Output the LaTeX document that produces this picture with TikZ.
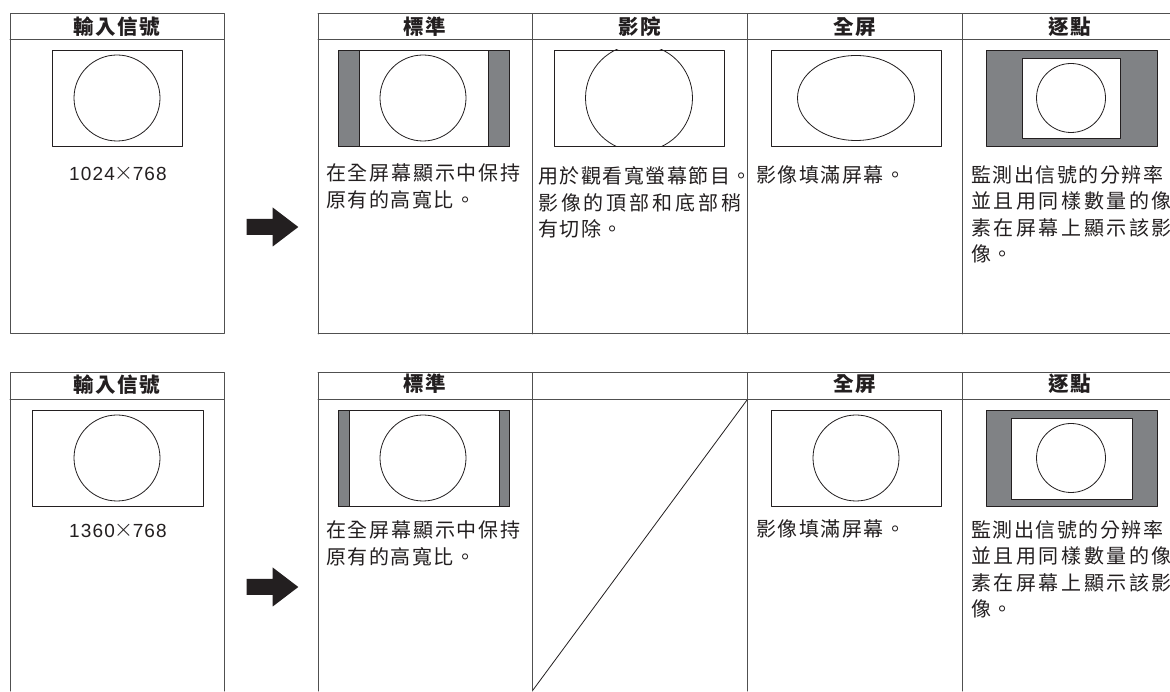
\documentclass[tikz,border=0pt]{standalone}
\usepackage{fontspec}
\usepackage{xcolor}
\usepackage{tikz}
\newfontfamily\cjk[LetterSpace=7.5]{Noto Sans CJK TC}
\newfontfamily\numfont[LetterSpace=6]{Liberation Sans}
\definecolor{tvink}{HTML}{231F20}
\definecolor{tvrule}{HTML}{505050}
\definecolor{tvgray}{HTML}{808285}
\newcommand{\tvscreen}[4]{%
  \draw[draw=tvink,line width=.9pt,fill=white] (#1,#2) rectangle (#3,#4);
}
\newcommand{\tvbar}[4]{%
  \filldraw[draw=tvink,fill=tvgray,line width=.9pt] (#1,#2) rectangle (#3,#4);
}
\newcommand{\tvdisc}[3]{%
  \draw[draw=tvink,line width=.8pt] (#1,#2) circle (#3pt);
}
\newcommand{\fatarrow}[2]{%
  \fill[tvink] (#1,#2-8) -- (#1+26,#2-8) -- (#1+26,#2-19.5) -- (#1+51.6,#2)
    -- (#1+26,#2+19.5) -- (#1+26,#2+8) -- (#1,#2+8) -- cycle;
}
\newcommand{\spread}[2]{{\addfontfeature{LetterSpace=#1}#2}}
\newcommand{\bytimes}{\hspace{-1pt}{\fontsize{24}{24}\selectfont
  \raisebox{.8pt}{$\times$}}\hspace{-.5pt}}
\tikzset{
  colhead/.style={font=\cjk\bfseries\fontsize{20.5}{23}\selectfont,
    text=tvink,inner sep=0pt},
  celltext/.style={anchor=north west,align=left,inner sep=0pt,
    font=\cjk\fontsize{20}{26.6}\selectfont,text=tvink},
  restext/.style={font=\numfont\fontsize{19}{21}\selectfont,
    text=tvink,inner sep=0pt},
  tablerule/.style={draw=tvrule,line width=1pt},
}

\begin{document}
\begin{tikzpicture}[x=1pt,y=1pt,line cap=round,line join=round]
\useasboundingbox (0,0) rectangle (1170,691);
\fill[white] (0,0) rectangle (1170,691);

% (a) 1024 x 768 input.
\draw[tablerule] (10,677) rectangle (224,357);
\draw[tablerule] (10,651) -- (224,651);
\node[colhead] (inhead1) at (117,664) {輸入信號};
\tvscreen{52}{545}{182}{641}
\tvdisc{117}{593}{43}
\node[restext] (inres1) at (118,517.5) {1024\bytimes 768};
\fatarrow{246.7}{464}

\draw[tablerule] (318,677) -- (1170,677);
\draw[tablerule] (318,651) -- (1170,651);
\draw[tablerule] (318,357) -- (1170,357);
\draw[tablerule] (318,677) -- (318,357);
\draw[tablerule] (532,677) -- (532,357);
\draw[tablerule] (747,677) -- (747,357);
\draw[tablerule] (962,677) -- (962,357);
\node[colhead] (stdhead1) at (425,664) {標準};
\node[colhead] (cinhead1) at (640,664) {影院};
\node[colhead] (fullhead1) at (854.5,664) {全屏};
\node[colhead] (dothead1) at (1069.5,664) {逐點};

\tvscreen{338}{545}{509}{641}
\tvbar{338}{545}{359}{641}
\tvbar{488}{545}{509}{641}
\tvdisc{423}{593}{43}
\node[celltext] (stdtext1) at (326,527.5)
  {\spread{9}{在全屏幕顯示中保持}\\原有的高寬比。};

\tvscreen{554}{545}{724}{641}
\begin{scope}
  \clip (554,545) rectangle (724,641);
  \tvdisc{639}{593}{53.5}
\end{scope}
\node[celltext] (cintext1) at (538,524.5)
  {用於觀看寬螢幕節目。\\\spread{14.5}{影像的頂部和底部稍}\\有切除。};

\tvscreen{771}{545}{941}{641}
\draw[draw=tvink,line width=.8pt] (856,593) ellipse (58.5pt and 42.5pt);
\node[celltext] (fulltext1) at (756,525.5) {影像填滿屏幕。};

\tvbar{986}{545}{1157}{641}
\tvscreen{1022}{553}{1120}{633}
\tvdisc{1071}{593}{34.5}
\node[celltext] (dottext1) at (971,526)
  {監測出信號的分辨率\\\spread{13}{並且用同樣數量的像}\\
   \spread{13}{素在屏幕上顯示該影}\\像。};

% (b) 1360 x 768 input.
\draw[tablerule] (10,0) -- (10,318) -- (224,318) -- (224,0);
\draw[tablerule] (10,291) -- (224,291);
\node[colhead] (inhead2) at (117,306) {輸入信號};
\tvscreen{32}{185}{203}{281}
\tvdisc{117}{233}{43}
\node[restext] (inres2) at (118,161) {1360\bytimes 768};
\fatarrow{246.7}{104}

\draw[tablerule] (318,318) -- (1170,318);
\draw[tablerule] (318,291) -- (1170,291);
\draw[tablerule] (318,318) -- (318,0);
\draw[tablerule] (532,318) -- (532,0);
\draw[tablerule] (747,318) -- (747,0);
\draw[tablerule] (962,318) -- (962,0);
\node[colhead] (stdhead2) at (425,307) {標準};
\node[colhead] (fullhead2) at (854.5,307) {全屏};
\node[colhead] (dothead2) at (1069.5,307) {逐點};

\tvscreen{338}{185}{509}{281}
\tvbar{338}{185}{349}{281}
\tvbar{499}{185}{509}{281}
\tvdisc{423}{233}{43}
\node[celltext] (stdtext2) at (326,170.5)
  {\spread{9}{在全屏幕顯示中保持}\\原有的高寬比。};

\draw[draw=tvink,line width=.8pt] (533,1) -- (747,291);

\tvscreen{771}{185}{941}{281}
\tvdisc{856}{233}{43}
\node[celltext] (fulltext2) at (756,171.5) {影像填滿屏幕。};

\tvbar{986}{185}{1157}{281}
\tvscreen{1011}{192}{1132}{273}
\tvdisc{1071}{233}{34.5}
\node[celltext] (dottext2) at (971,171)
  {監測出信號的分辨率\\\spread{13}{並且用同樣數量的像}\\
   \spread{13}{素在屏幕上顯示該影}\\像。};

\end{tikzpicture}
\end{document}
